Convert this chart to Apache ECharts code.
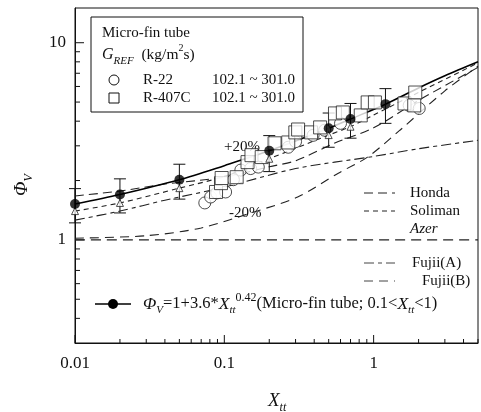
<!DOCTYPE html>
<html>
<head>
<meta charset="utf-8">
<script src="https://cdn.jsdelivr.net/npm/echarts@6/dist/echarts.min.js"></script>
<style>
  html, body { margin: 0; padding: 0; background: #fff; }
  #chart { width: 481px; height: 412px; }
</style>
</head>
<body>
<div id="chart"></div>
<script>
// 轴范围
var xMin = 0.01, xMax = 5;
var yMin = 0.3, yMax = 15;

// 刻度
var xMajorTicks = [0.01, 0.1, 1];
var xMinorTicks = [0.02, 0.03, 0.04, 0.05, 0.06, 0.07, 0.08, 0.09,
  0.2, 0.3, 0.4, 0.5, 0.6, 0.7, 0.8, 0.9, 2, 3, 4, 5];
var yMajorTicks = [1, 10];
var yMinorTicks = [0.4, 0.5, 0.6, 0.7, 0.8, 0.9, 2, 3, 4, 5, 6, 7, 8, 9];

// 关联式 (实线 + 实心点)
var corrX = [0.01, 0.02, 0.05, 0.1, 0.2, 0.5, 0.7, 1.2, 2, 3, 5];
var corrY = [1.52, 1.70, 2.02, 2.38, 2.83, 3.68, 4.10, 4.88, 5.90, 6.80, 8.00];
var dotX = [0.01, 0.02, 0.05, 0.2, 0.5, 0.7, 1.2];
var dotY = [1.52, 1.70, 2.02, 2.83, 3.68, 4.10, 4.88];
var errLow = [1.22, 1.37, 1.61, 2.22, 2.95, 3.28, 3.90];
var errHigh = [1.82, 2.04, 2.42, 3.38, 4.40, 4.92, 5.85];

// 空心三角
var triX = [0.01, 0.02, 0.05, 0.2, 0.5, 0.7];
var triY = [1.40, 1.54, 1.83, 2.58, 3.40, 3.75];

// 实验数据
var r22X = [0.074, 0.081, 0.089, 0.102, 0.115, 0.129, 0.150, 0.169, 0.268, 0.30, 0.393, 0.47, 0.60, 1.73, 2.02];
var r22Y = [1.54, 1.65, 1.73, 1.75, 2.02, 2.26, 2.30, 2.34, 2.95, 3.15, 3.39, 3.60, 3.90, 4.81, 4.64];
var r407cX = [0.088, 0.095, 0.096, 0.121, 0.143, 0.152, 0.178, 0.217, 0.268, 0.299, 0.312, 0.381, 0.438, 0.551, 0.622, 0.82, 0.912, 1.02, 1.61, 1.90, 1.87];
var r407cY = [1.75, 1.94, 2.06, 2.08, 2.48, 2.69, 2.63, 3.09, 3.12, 3.51, 3.63, 3.51, 3.72, 4.38, 4.43, 4.28, 4.98, 4.98, 4.92, 5.59, 4.81];

// 其他关联式
var hondaX = [0.01, 0.02, 0.04, 0.1, 0.2, 0.3, 0.55, 1, 2, 5];
var hondaY = [1.67, 1.77, 1.92, 2.08, 2.35, 2.52, 3.10, 3.70, 5.10, 7.50];
var solimanX = [0.01, 0.02, 0.05, 0.1, 0.2, 0.5, 0.7, 1, 2, 5];
var solimanY = [1.40, 1.54, 1.83, 2.10, 2.58, 3.40, 3.75, 4.30, 5.60, 7.90];
var azerX = [0.01, 5];
var azerY = [1.0, 1.0];
var fujiiAX = [0.01, 0.02, 0.04, 0.1, 0.3, 1, 2, 5];
var fujiiAY = [1.26, 1.40, 1.59, 1.85, 2.30, 2.65, 2.90, 3.20];
var fujiiBX = [0.01, 0.03, 0.07, 0.16, 0.31, 0.58, 0.91, 1.5, 3, 5];
var fujiiBY = [1.02, 1.05, 1.15, 1.39, 1.65, 2.18, 2.63, 3.60, 5.70, 7.60];

var serif = '"Liberation Serif", "DejaVu Serif", serif';

function pairs(xs, ys) {
  return xs.map(function (x, i) { return [x, ys[i]]; });
}

function dashLine(name, xs, ys, dash) {
  return {
    name: name,
    type: 'line',
    data: pairs(xs, ys),
    showSymbol: false,
    smooth: 0.3,
    silent: true,
    lineStyle: { color: '#222', width: 1.1, type: dash },
    z: 2
  };
}

var chart = echarts.init(document.getElementById('chart'));

var option = {
  animation: false,
  backgroundColor: '#fff',
  grid: { left: 75, right: -2, top: 8, bottom: 69, show: true, borderColor: '#111', borderWidth: 1 },
  xAxis: {
    type: 'log', logBase: 10, min: xMin, max: xMax,
    axisLine: { lineStyle: { color: '#111' } },
    axisTick: { show: false },
    splitLine: { show: false },
    axisLabel: {
      margin: 12, color: '#111', fontFamily: serif, fontSize: 17,
      formatter: function (v) { return xMajorTicks.indexOf(+v.toPrecision(3)) >= 0 ? String(+v.toPrecision(3)) : ''; }
    }
  },
  yAxis: {
    type: 'log', logBase: 10, min: yMin, max: yMax,
    axisLine: { lineStyle: { color: '#111' } },
    axisTick: { show: false },
    splitLine: { show: false },
    axisLabel: {
      margin: 9, color: '#111', fontFamily: serif, fontSize: 17,
      formatter: function (v) { return yMajorTicks.indexOf(+v.toPrecision(3)) >= 0 ? String(+v.toPrecision(3)) : ''; }
    }
  },
  series: [
    // 刻度线 (向内)
    {
      type: 'custom', silent: true, clip: false, z: 1,
      data: xMajorTicks.map(function (v) { return [v, 8]; }).concat(xMinorTicks.map(function (v) { return [v, 4]; })),
      renderItem: function (params, api) {
        var p = api.coord([api.value(0), yMin]);
        return { type: 'line', shape: { x1: p[0], y1: p[1], x2: p[0], y2: p[1] - api.value(1) }, style: { stroke: '#111', lineWidth: 1 } };
      }
    },
    {
      type: 'custom', silent: true, clip: false, z: 1,
      data: yMajorTicks.map(function (v) { return [v, 9]; }).concat(yMinorTicks.map(function (v) { return [v, 5]; })),
      renderItem: function (params, api) {
        var p = api.coord([xMin, api.value(0)]);
        return { type: 'line', shape: { x1: p[0], y1: p[1], x2: p[0] + api.value(1), y2: p[1] }, style: { stroke: '#111', lineWidth: 1 } };
      }
    },
    dashLine('Honda', hondaX, hondaY, [9, 5]),
    dashLine('Soliman', solimanX, solimanY, [5, 4]),
    dashLine('Azer', azerX, azerY, [10, 6]),
    dashLine('Fujii(A)', fujiiAX, fujiiAY, [10, 4, 4, 4]),
    dashLine('Fujii(B)', fujiiBX, fujiiBY, [9, 6]),
    {
      name: 'corr', type: 'line', data: pairs(corrX, corrY), showSymbol: false, smooth: 0.3,
      lineStyle: { color: '#000', width: 1.6 }, z: 3, silent: true
    },
    // 误差棒
    {
      type: 'custom', silent: true, z: 4,
      data: dotX.map(function (x, i) { return [x, errLow[i], errHigh[i]]; }),
      renderItem: function (params, api) {
        var lo = api.coord([api.value(0), api.value(1)]);
        var hi = api.coord([api.value(0), api.value(2)]);
        var w = 6;
        return {
          type: 'group',
          children: [
            { type: 'line', shape: { x1: lo[0], y1: lo[1], x2: hi[0], y2: hi[1] }, style: { stroke: '#111', lineWidth: 1 } },
            { type: 'line', shape: { x1: hi[0] - w, y1: hi[1], x2: hi[0] + w, y2: hi[1] }, style: { stroke: '#111', lineWidth: 1 } },
            { type: 'line', shape: { x1: lo[0] - w, y1: lo[1], x2: lo[0] + w, y2: lo[1] }, style: { stroke: '#111', lineWidth: 1 } }
          ]
        };
      }
    },
    {
      name: 'R-22', type: 'scatter', data: pairs(r22X, r22Y), symbol: 'circle', symbolSize: 12,
      itemStyle: { color: '#fff', borderColor: '#222', borderWidth: 1 }, z: 5, silent: true
    },
    {
      name: 'R-407C', type: 'scatter', data: pairs(r407cX, r407cY), symbol: 'rect', symbolSize: 13,
      itemStyle: { color: '#fff', borderColor: '#222', borderWidth: 1 }, z: 6, silent: true
    },
    {
      name: 'tri', type: 'scatter', data: pairs(triX, triY), symbol: 'triangle', symbolSize: 7,
      itemStyle: { color: '#fff', borderColor: '#222', borderWidth: 1 }, z: 7, silent: true
    },
    {
      name: 'dot', type: 'scatter', data: pairs(dotX, dotY), symbol: 'circle', symbolSize: 10,
      itemStyle: { color: '#000' }, z: 8, silent: true
    }
  ],
  graphic: [
    // 左上图例框
    { type: 'rect', shape: { x: 91, y: 17, width: 212, height: 95 }, style: { fill: '#fff', stroke: '#111', lineWidth: 1 }, z: 50 },
    { type: 'text', x: 102, y: 33, z: 51, style: { text: 'Micro-fin tube', font: '15px ' + serif, fill: '#111', verticalAlign: 'middle' } },
    { type: 'text', x: 102, y: 55, z: 51, style: {
      text: '{i|G}{sub|REF}{n|  (kg/m}{sup|2}{n|s)}', verticalAlign: 'middle', fill: '#111',
      rich: {
        i: { fontFamily: serif, fontSize: 16, fontStyle: 'italic', lineHeight: 24, verticalAlign: 'middle' },
        sub: { fontFamily: serif, fontSize: 11, fontStyle: 'italic', lineHeight: 10, verticalAlign: 'bottom' },
        n: { fontFamily: serif, fontSize: 15.5, lineHeight: 24, verticalAlign: 'middle' },
        sup: { fontFamily: serif, fontSize: 10, lineHeight: 10, verticalAlign: 'top' }
      } } },
    { type: 'circle', shape: { cx: 114, cy: 80, r: 5 }, style: { fill: '#fff', stroke: '#111', lineWidth: 1 }, z: 51 },
    { type: 'text', x: 143, y: 80, z: 51, style: { text: 'R-22', font: '15px ' + serif, fill: '#111', verticalAlign: 'middle' } },
    { type: 'text', x: 212, y: 80, z: 51, style: { text: '102.1 ~ 301.0', font: '15px ' + serif, fill: '#111', verticalAlign: 'middle' } },
    { type: 'rect', shape: { x: 109, y: 93, width: 10, height: 10 }, style: { fill: '#fff', stroke: '#111', lineWidth: 1 }, z: 51 },
    { type: 'text', x: 143, y: 98, z: 51, style: { text: 'R-407C', font: '15px ' + serif, fill: '#111', verticalAlign: 'middle' } },
    { type: 'text', x: 212, y: 98, z: 51, style: { text: '102.1 ~ 301.0', font: '15px ' + serif, fill: '#111', verticalAlign: 'middle' } },

    // 右下图例
    { type: 'line', shape: { x1: 364, y1: 193, x2: 395, y2: 193 }, style: { stroke: '#222', lineWidth: 1, lineDash: [9, 5] } },
    { type: 'text', x: 410, y: 193, style: { text: 'Honda', font: '15px ' + serif, fill: '#111', verticalAlign: 'middle' } },
    { type: 'line', shape: { x1: 364, y1: 211, x2: 395, y2: 211 }, style: { stroke: '#222', lineWidth: 1, lineDash: [5, 4] } },
    { type: 'text', x: 410, y: 211, style: { text: 'Soliman', font: '15px ' + serif, fill: '#111', verticalAlign: 'middle' } },
    { type: 'text', x: 410, y: 229, style: { text: 'Azer', font: 'italic 15px ' + serif, fill: '#111', verticalAlign: 'middle' } },
    { type: 'line', shape: { x1: 364, y1: 263, x2: 395, y2: 263 }, style: { stroke: '#444', lineWidth: 1, lineDash: [10, 4, 4, 4] } },
    { type: 'text', x: 412, y: 263, style: { text: 'Fujii(A)', font: '15px ' + serif, fill: '#111', verticalAlign: 'middle' } },
    { type: 'line', shape: { x1: 364, y1: 281, x2: 395, y2: 281 }, style: { stroke: '#444', lineWidth: 1, lineDash: [9, 6] } },
    { type: 'text', x: 422, y: 281, style: { text: 'Fujii(B)', font: '15px ' + serif, fill: '#111', verticalAlign: 'middle' } },

    // 关联式图例
    { type: 'line', shape: { x1: 95, y1: 304, x2: 131, y2: 304 }, style: { stroke: '#000', lineWidth: 1.6 } },
    { type: 'circle', shape: { cx: 113, cy: 304, r: 5 }, style: { fill: '#000' } },
    { type: 'text', x: 143, y: 304, style: {
      text: '{i|Φ}{sub|V}{n|=1+3.6*}{i|X}{sub|tt}{sup|0.42}{n|(Micro-fin tube; 0.1<}{i|X}{sub|tt}{n|<1)}',
      verticalAlign: 'middle', fill: '#111',
      rich: {
        i: { fontFamily: serif, fontSize: 17.5, fontStyle: 'italic', lineHeight: 24, verticalAlign: 'middle' },
        sub: { fontFamily: serif, fontSize: 11, fontStyle: 'italic', lineHeight: 10, verticalAlign: 'bottom' },
        sup: { fontFamily: serif, fontSize: 12, lineHeight: 10, verticalAlign: 'top' },
        n: { fontFamily: serif, fontSize: 16.5, lineHeight: 24, verticalAlign: 'middle' }
      } } },

    // ±20% 标注
    { type: 'text', x: 224, y: 147, style: { text: '+20%', font: '15px ' + serif, fill: '#111', verticalAlign: 'middle' } },
    { type: 'text', x: 229, y: 213, style: { text: '-20%', font: '15px ' + serif, fill: '#111', verticalAlign: 'middle' } },

    // 轴标题
    { type: 'text', x: 268, y: 401, style: {
      text: '{i|X}{sub|tt}', verticalAlign: 'middle', fill: '#111',
      rich: {
        i: { fontFamily: serif, fontSize: 19, fontStyle: 'italic', lineHeight: 26, verticalAlign: 'middle' },
        sub: { fontFamily: serif, fontSize: 12, fontStyle: 'italic', lineHeight: 12, verticalAlign: 'bottom' }
      } } },
    { type: 'text', x: 22, y: 196, rotation: Math.PI / 2, style: {
      text: '{i|Φ}{sub|V}', verticalAlign: 'middle', fill: '#111',
      rich: {
        i: { fontFamily: serif, fontSize: 19, fontStyle: 'italic', lineHeight: 26, verticalAlign: 'middle' },
        sub: { fontFamily: serif, fontSize: 12, fontStyle: 'italic', lineHeight: 12, verticalAlign: 'bottom' }
      } } }
  ]
};

chart.setOption(option);
</script>
</body>
</html>
